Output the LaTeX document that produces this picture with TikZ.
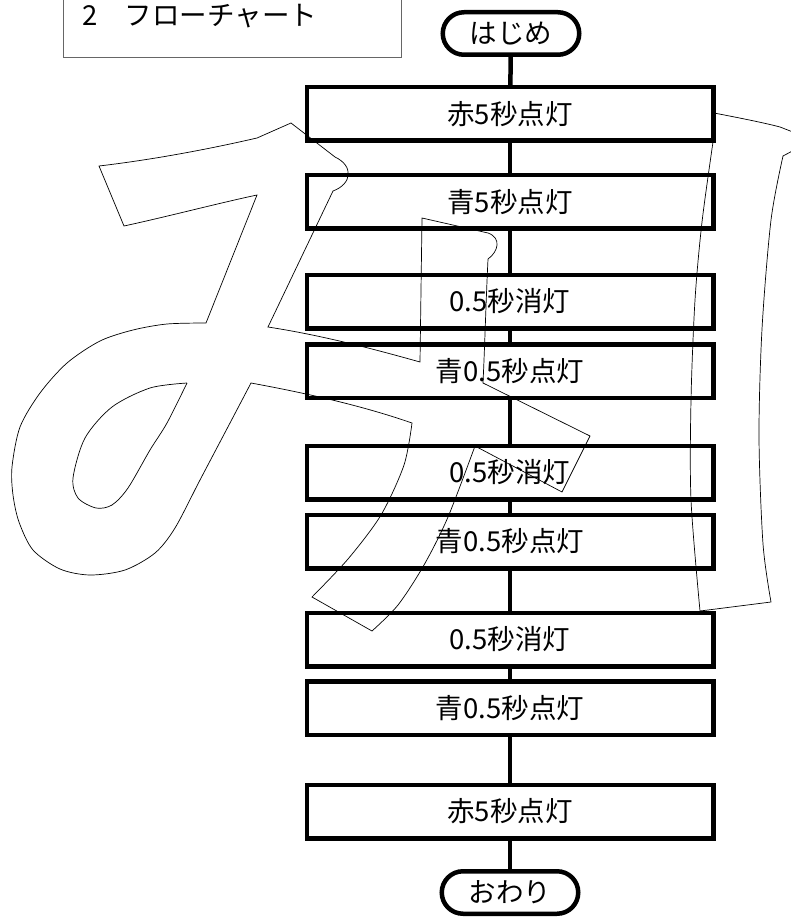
\documentclass[tikz,border=0pt]{standalone}
\usepackage{fontspec}
\setmainfont{Noto Sans CJK JP}
\usetikzlibrary{shapes.misc}
\newcommand{\boxfont}{\fontsize{27.5}{32}\selectfont}
\tikzstyle{procbox}=[draw, line width=4.5pt, minimum width=406.5pt, minimum height=53.5pt, inner sep=0pt, font=\boxfont]
\tikzstyle{terminal}=[draw, rounded rectangle, line width=4.5pt, minimum width=136.5pt, minimum height=42.5pt, inner sep=0pt, font=\boxfont]
\tikzstyle{spine}=[line width=4.5pt]
\tikzstyle{watermark}=[line width=0.7pt]
\tikzstyle{titleframe}=[draw=black!60, line width=1pt]

\begin{document}
\begin{tikzpicture}[x=1pt,y=-1pt]
  \useasboundingbox (0,0) rectangle (791,917);
  % outline of the big character behind the chart
  \draw[watermark] (99,166) -- (124,226)
    .. controls (170,216) and (215,204) .. (257,195)
    -- (206,323)
    -- plot[smooth] coordinates {(206,323) (167,324) (133,330) (100,341) (67,363) (40,393) (20,427) (12,467) (13,495) (19,522) (33,550) (60,569) (90,575) (125,570) (155,553) (175,528) (200,480) (230,423) (251,383)}
    .. controls (305,393) and (360,405) .. (412,423)
    -- plot[smooth] coordinates {(412,423) (404,465) (381,515) (348,559) (312,597)}
    -- (372,631)
    -- plot[smooth] coordinates {(372,631) (398,605) (424,565) (448,517) (475,446)}
    -- (562,492) -- (590,436) -- (483,383)
    .. controls (485,340) and (486,300) .. (488,259)
    .. controls (498,252) and (502,238) .. (488,233)
    -- (422,218) -- (420,362)
    .. controls (370,348) and (320,335) .. (268,327)
    -- (333,191)
    .. controls (352,184) and (354,166) .. (335,157)
    -- (291,123) -- (257,138)
    .. controls (205,150) and (150,160) .. (99,166) -- cycle;
  \draw[watermark] plot[smooth] coordinates {(187,383) (150,388) (112,407) (85,438) (73,478) (78,498) (96,508) (112,505) (128,488) (150,450) (167,423) (187,383)};
  \draw[watermark] (714,113) .. controls (740,118) and (765,123) .. (780,127)
    -- (798,134) -- (798,148) -- (783,156)
    -- plot[smooth] coordinates {(783,156) (771,220) (762,329) (759,437) (763,544) (771,602)}
    -- (700,611)
    -- plot[smooth] coordinates {(700,611) (691,500) (691,400) (695,300) (702,222) (713,142)}
    -- cycle;
  % title
  \draw[titleframe] (63,-10) rectangle (401,58);
  \node[anchor=west, inner sep=0pt, font=\boxfont] (title) at (82,16) {2　フローチャート};
  % chart
  \node[terminal] (start) at (511,33.5) {はじめ};
  \foreach \n/\y/\t in {1/114/赤5秒点灯, 2/202/青5秒点灯, 3/301.5/0.5秒消灯,
      4/371/青0.5秒点灯, 5/472.5/0.5秒消灯, 6/541.5/青0.5秒点灯,
      7/639.5/0.5秒消灯, 8/708/青0.5秒点灯, 9/811.5/赤5秒点灯}
    \node[procbox] (b\n) at (510,\y) {\t};
  \node[terminal] (stop) at (510,892.5) {おわり};
  \draw[spine] (start) -- (b1);
  \foreach \i in {1,...,8} {
    \pgfmathtruncatemacro{\j}{\i+1}
    \draw[spine] (b\i) -- (b\j);
  }
  \draw[spine] (b9) -- (stop);
\end{tikzpicture}
\end{document}
